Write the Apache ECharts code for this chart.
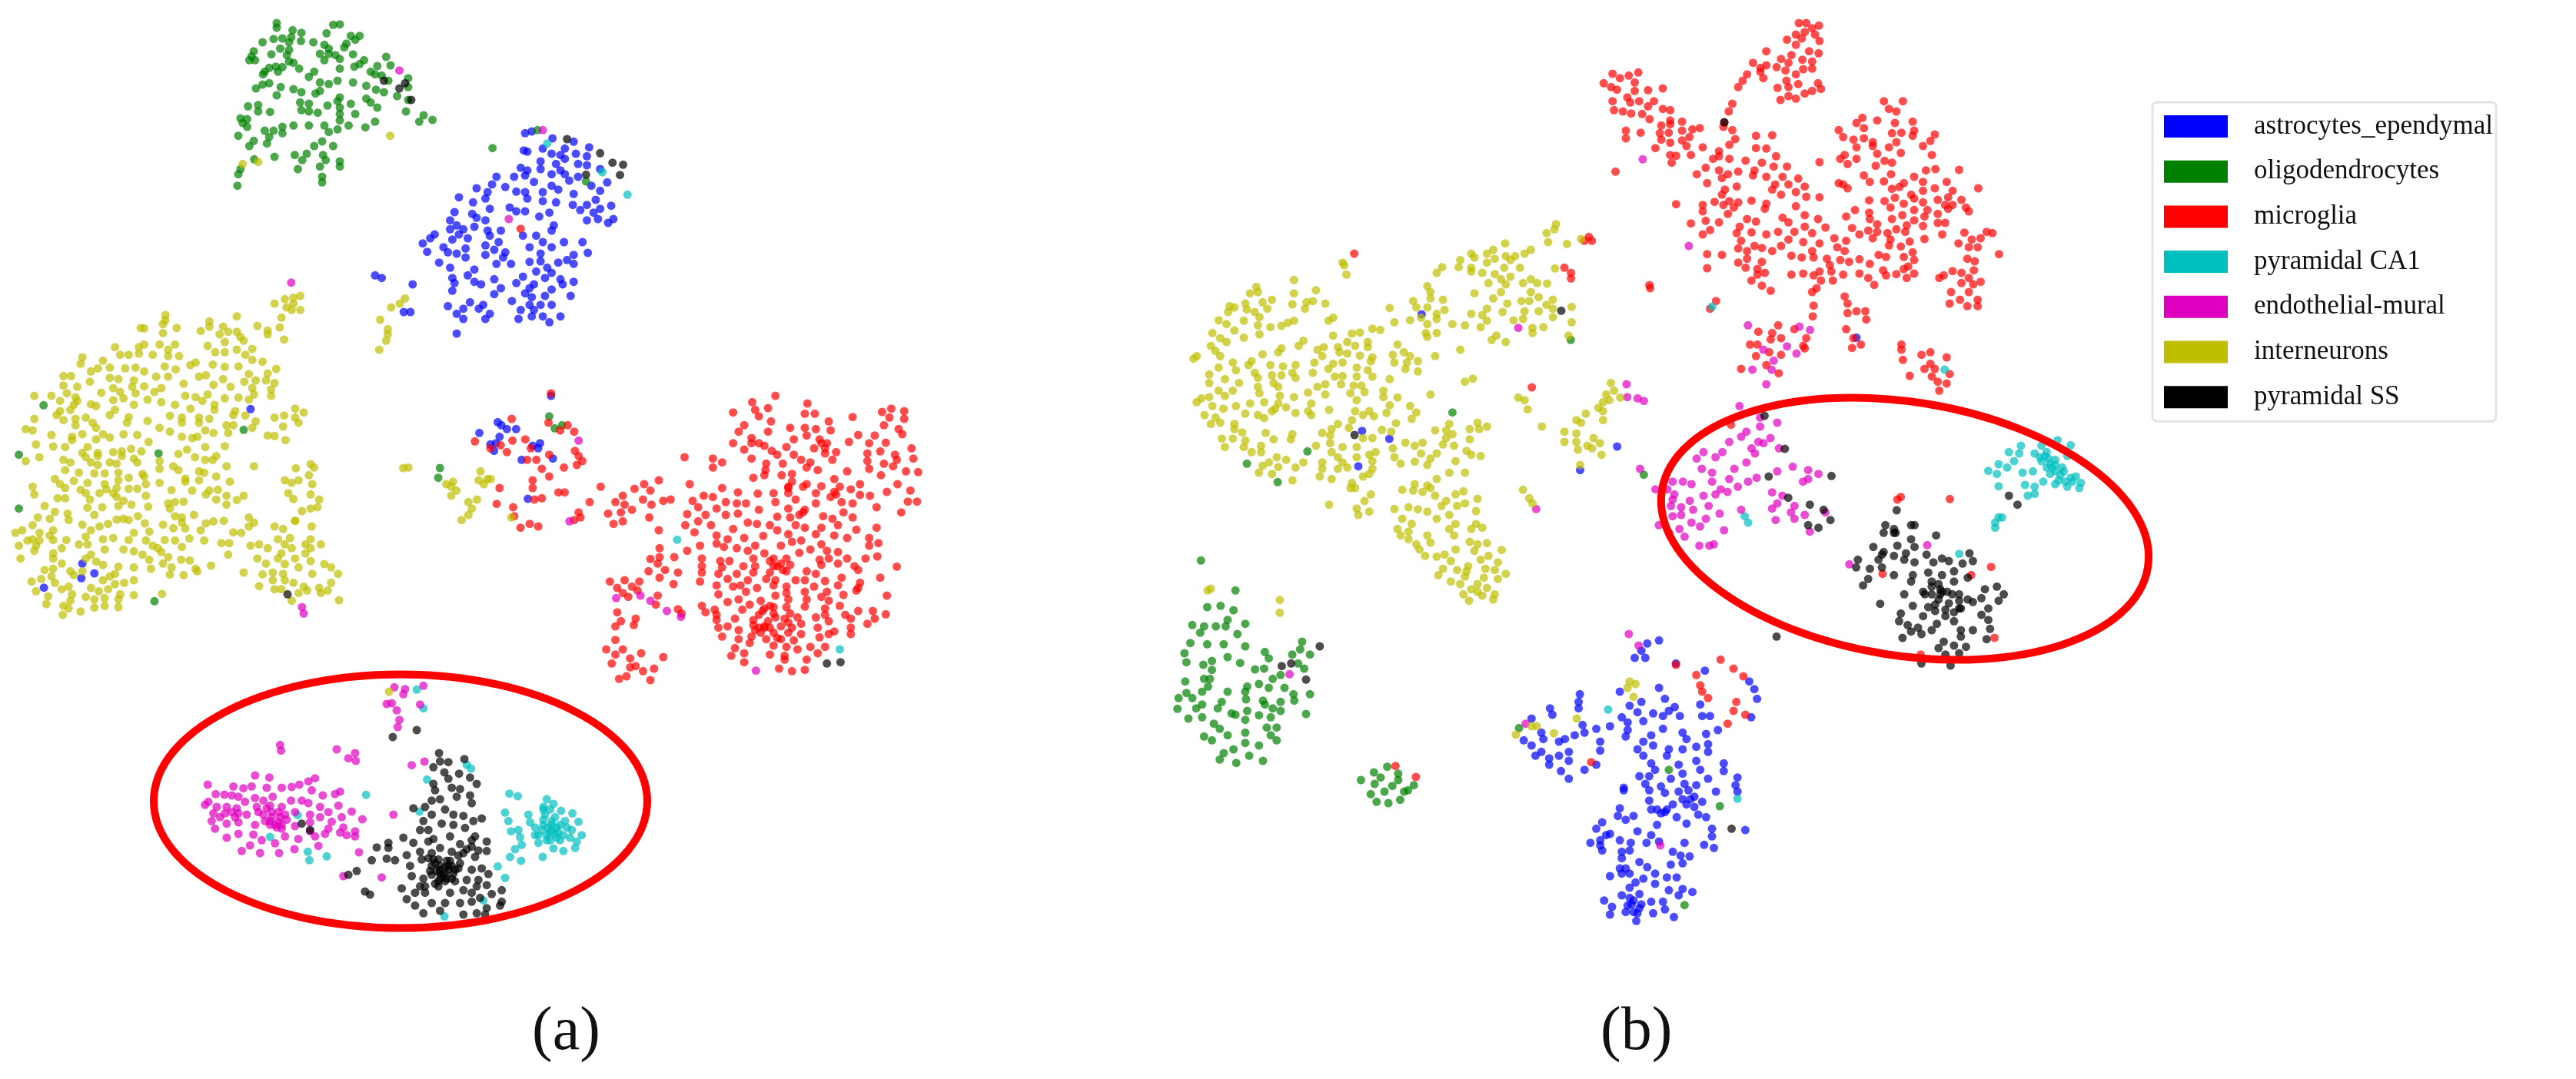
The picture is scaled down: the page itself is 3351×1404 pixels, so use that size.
<!DOCTYPE html>
<html><head><meta charset="utf-8">
<style>html,body{margin:0;padding:0;background:#fff}#c{width:3351px;height:1404px}</style>
<script src="https://cdn.jsdelivr.net/npm/echarts@6/dist/echarts.min.js"></script>
</head><body><div id="c"></div>
<script>
// Each reading frame: [origin x, origin y, x units per image px, y units per image px]
const f1=[0,0,1.742,3], f2=[0,380,2.24,3], f3=[480,470,2.09,3], f4=[180,860,2.306,3],
      f5=[2040,0,2.6,3], f6=[1520,280,2.45,3], f7=[2120,480,2.24,3], f8=[1500,700,1.96,3];

const categories=['astrocytes_ependymal','oligodendrocytes','microglia','pyramidal CA1','endothelial-mural','interneurons','pyramidal SS'];
const colors=['#0000ff','#008000','#ff0000','#00bfbf','#df00bf','#bfbf00','#000000'];
const panelLabels=['(a)','(b)'];

// ---- panel (a) ----
const oligoA=[[627,90],[627,108],[755,97],[770,95],[663,118],[683,128],[740,130],[620,152],[640,150],[660,145],[682,160],[595,165],[655,165],[710,165],[735,175],[795,140],[815,140],[805,155],[785,170],[780,185],[745,190],[635,190],[655,195],[575,200],[570,220],[565,235],[578,235],[615,212],[650,215],[725,210],[745,210],[760,215],[800,212],[875,222],[655,240],[665,245],[735,235],[770,230],[825,235],[815,250],[610,265],[625,260],[640,262],[600,280],[630,280],[678,268],[770,268],[803,260],[855,258],[885,255],[840,280],[850,290],[712,280],[700,300],[596,290],[865,295],[880,315],[925,305],[765,315],[745,328],[725,322],[800,322],[830,335],[610,325],[595,330],[580,345],[636,340],[665,348],[683,360],[725,355],[715,365],[852,350],[870,360],[925,340],[925,390],[627,372],[900,375],[770,380],[765,395],[830,385],[795,405],[840,400],[855,420],[680,400],[700,405],[562,415],[585,410],[585,435],[612,437],[742,412],[770,420],[683,430],[700,435],[720,440],[805,445],[920,435],[770,445],[960,450],[950,475],[980,468],[545,462],[560,465],[550,480],[560,495],[770,470],[700,490],[665,490],[640,495],[735,490],[790,490],[828,497],[850,475],[600,510],[620,510],[610,535],[640,520],[745,515],[765,505],[540,530],[605,560],[575,550],[565,570],[730,552],[712,570],[755,570],[695,600],[668,605],[622,612],[732,605],[685,625],[738,625],[770,630],[770,650],[725,650],[675,660],[545,660],[540,680],[730,690],[730,712],[538,725],[576,622],[1218,508],[1116,578],[1328,708]];
const oligoA2=[[127,442],[710,538],[55,635],[462,630],[55,845],[450,1207],[1282,687],[1277,725]];
const oligoA3=[[490,215],[505,262],[525,250]];
const blueA=[[1190,520],[1205,513],[1252,540],[1300,553],[1187,587],[1195,592],[1230,580],[1280,580],[1335,575],[1250,600],[1270,605],[1305,600],[1280,620],[1330,610],[1225,630],[1260,640],[1310,640],[1180,655],[1195,665],[1225,660],[1270,665],[1330,645],[1360,660],[1165,690],[1190,685],[1250,680],[1280,680],[1310,690],[1125,690],[1115,720],[1210,710],[1250,725],[1290,705],[1376,712],[1145,730],[1080,735],[1170,748],[1190,750],[1230,750],[1265,740],[1300,757],[1360,745],[1340,725],[1105,750],[1040,770],[1195,775],[1230,785],[1260,790],[1100,775],[1072,790],[1350,780],[1298,800],[1330,800],[1385,803],[1110,815],[1155,810],[1170,825],[1190,825],[1030,828],[1070,835],[1315,820],[1360,815],[1245,830],[1222,845],[1345,830],[1330,860],[1390,855],[1080,850],[1100,860],[1020,860],[1355,855],[1378,870],[1035,880],[1075,885],[1050,895],[1255,880],[1250,900],[1135,900],[1105,900],[1020,895],[985,915],[975,930],[1040,915],[1110,920],[1185,920],[1215,920],[1060,930],[1025,935],[1230,945],[958,950],[1130,945],[1320,945],[1278,945],[1200,965],[1250,965],[1005,965],[1100,958],[1055,970],[1015,985],[968,983],[1120,975],[1145,985],[1035,990],[1332,987],[1055,1005],[1100,995],[1140,1005],[1225,990],[1300,995],[1285,1015],[995,1025],[1225,1020],[1200,1022],[1265,1025],[1300,1030],[1125,1030],[1158,1030],[1020,1045],[1240,1045],[1075,1052],[1215,1060],[1060,1075],[1250,1065],[1025,1085],[1120,1090],[1075,1100],[1185,1080],[1235,1085],[1270,1090],[1300,1100],[1030,1105],[1090,1110],[1170,1105],[1210,1110],[1135,1125],[1200,1125],[1275,1110],[1025,1135],[1120,1148],[1190,1145],[1250,1130],[1293,1155],[1205,1160],[1235,1155],[1160,1175],[1065,1180],[1095,1190],[1015,1195],[1200,1190],[1225,1190],[1250,1190],[1050,1205],[1035,1225],[1085,1205],[1110,1225],[1180,1210],[1210,1210],[1100,1245],[1050,1245],[1175,1245],[1205,1235],[1230,1235],[1270,1235],[1245,1258],[1035,1302],[850,1075],[865,1085],[935,1110],[915,1218],[930,1218]];
const blueA2=[[730,457],[240,1060],[275,1098],[237,1117],[128,1154]];
const blueA3=[[495,135],[350,238],[360,250],[375,265],[400,265],[300,280],[355,295],[330,325],[345,320],[340,350],[465,320],[445,330],[460,340],[415,385],[500,380],[432,537]];
const interA=[[875,15],[855,22],[830,28],[800,45],[855,45],[835,60],[850,70],[875,70],[820,100],[690,95],[815,138],[828,185],[750,132],[780,150],[780,165],[482,90],[482,110],[475,125],[410,140],[420,142],[515,140],[610,115],[610,135],[585,152],[650,135],[640,165],[665,155],[690,155],[700,175],[710,190],[475,160],[465,205],[445,245],[420,205],[405,215],[335,215],[510,205],[490,225],[605,210],[655,195],[690,225],[735,222],[627,235],[655,235],[715,245],[350,245],[375,245],[405,240],[490,250],[522,250],[240,255],[235,280],[300,268],[765,272],[735,265],[570,275],[620,283],[655,292],[555,285],[480,290],[695,290],[320,295],[285,298],[265,310],[365,298],[395,295],[420,310],[512,302],[805,300],[490,330],[580,330],[600,325],[725,320],[780,318],[185,328],[207,328],[320,335],[345,340],[455,330],[390,345],[650,340],[775,345],[262,350],[185,365],[712,350],[745,345],[800,355],[535,358],[622,362],[672,370],[420,368],[470,375],[225,370],[330,375],[385,370],[735,375],[790,380],[195,395],[295,393],[350,390],[395,395],[450,390],[740,400],[790,405],[605,400],[100,405],[150,405],[540,405],[570,410],[220,410],[225,425],[360,415],[430,420],[470,430],[655,415],[695,412],[725,420],[330,422],[175,425],[590,425],[215,440],[265,438],[390,440],[510,440],[625,440],[555,455],[625,460],[205,460],[280,445],[335,460],[175,465],[685,465],[165,480],[100,495],[320,480],[495,483],[530,490],[580,490],[610,495],[680,480],[715,482],[375,488],[250,490],[220,495],[185,500],[430,503],[370,510],[530,510],[580,510],[800,490],[828,482],[860,455],[885,470],[860,490],[870,510],[745,505],[220,520],[270,510],[280,530],[75,535],[95,540],[465,530],[495,545],[660,520],[680,520],[735,530],[825,525],[665,550],[598,540],[622,550],[240,555],[210,565],[150,558],[300,555],[360,555],[400,558],[530,565],[560,570],[575,565],[280,575],[320,568],[780,560],[800,562],[433,585],[832,578],[210,578],[105,595],[155,603],[598,605],[190,605],[255,605],[655,602],[382,612],[545,615],[240,628],[355,622],[285,628],[330,625],[412,622],[520,632],[115,645],[285,640],[568,645],[630,640],[185,655],[250,645],[355,640],[390,650],[598,655],[75,660],[205,665],[265,665],[400,665],[465,660],[740,680],[660,680],[620,655],[285,675],[320,665],[340,670],[505,680],[190,695],[230,705],[465,690],[580,700],[595,705],[520,695],[275,708],[305,708],[345,705],[415,710],[375,725],[630,720],[540,728],[160,730],[215,737],[465,745],[580,735],[670,740],[255,745],[345,735],[420,720],[425,750],[175,750],[305,750],[95,760],[540,740],[190,765],[235,772],[310,770],[340,765],[375,768],[400,768],[610,775],[500,773],[560,775],[250,785],[330,785],[100,790],[290,785],[425,795],[600,790],[635,772],[660,795],[710,795],[168,805],[190,805],[262,810],[340,800],[360,815],[690,812],[630,810],[490,825],[510,820],[535,818],[130,835],[255,842],[298,840],[345,835],[383,830],[432,838],[660,830],[160,858],[495,845],[197,865],[275,870],[340,888],[375,890],[402,875],[510,875],[565,870],[530,880],[110,880],[145,885],[200,890],[725,880],[360,885],[422,903],[475,908],[530,900],[600,903],[622,895],[652,893],[740,900],[95,910],[240,908],[290,915],[315,905],[800,915],[725,915],[860,893],[908,915],[65,930],[45,940],[155,930],[265,930],[505,922],[540,922],[435,935],[585,930],[680,938],[703,940],[115,940],[390,940],[145,950],[250,955],[300,965],[330,960],[95,965],[155,968],[193,968],[375,968],[425,970],[480,968],[510,970],[552,962],[595,970],[80,970],[115,970],[645,980],[668,980],[55,990],[230,985],[255,985],[105,990],[445,990],[530,995],[460,1000],[180,1000],[360,1005],[390,1012],[100,1010],[155,1020],[305,1005],[470,1015],[730,990],[755,985],[415,1025],[665,1025],[265,1025],[60,1040],[155,1040],[250,1040],[435,1045],[490,1035],[528,1045],[553,1048],[280,1052],[300,1065],[180,1060],[475,1060],[345,1072],[390,1075],[615,1068],[440,1080],[500,1075],[570,1080],[130,1085],[155,1080],[205,1090],[240,1090],[335,1100],[710,1095],[495,1103],[535,1105],[150,1110],[575,1090],[215,1105],[320,1110],[390,1125],[92,1130],[120,1120],[160,1135],[300,1125],[362,1135],[200,1150],[335,1140],[105,1168],[265,1155],[180,1160],[140,1188],[210,1180],[250,1190],[350,1180],[315,1160],[288,1168],[472,1178],[390,1183],[205,1205],[275,1200],[305,1195],[345,1200],[135,1218],[185,1225],[235,1247],[275,1232],[345,1230],[305,1225],[200,1235],[183,1260],[905,672],[862,688],[915,685],[900,715],[830,735],[870,735],[850,745],[910,750],[840,785],[905,790],[855,808],[930,810],[880,855],[905,845],[925,840],[860,893],[825,925],[810,965],[845,960],[905,965],[890,985],[935,985],[830,985],[780,1000],[850,1000],[905,1000],[820,1020],[890,1020],[750,1040],[810,1040],[860,1040],[905,1050],[775,1060],[830,1062],[945,1062],[870,1075],[965,1075],[795,1095],[825,1100],[910,1100],[985,1100],[765,1102],[830,1125],[795,1125],[965,1135],[755,1148],[885,1150],[930,1155],[855,1135],[800,1160],[895,1165],[820,1160],[935,1175],[955,1165],[870,1175],[850,1205],[988,1203],[1190,685],[1175,687],[1300,750],[1320,740],[1315,760],[1330,775],[1315,795],[1400,700],[1395,735],[1420,730],[1410,750],[1430,730],[1365,820],[1390,810],[1375,845],[1365,870],[1345,890],[1490,880],[1180,25],[1165,45],[1140,60],[1108,108],[1130,145],[1130,165],[1125,190],[1105,225]];
const interA1=[[884,530],[550,640],[585,632]];
const interA4=[[752,120]];
const microA=[[495,125],[388,225],[488,240],[520,270],[540,250],[558,275],[288,313],[390,310],[425,305],[330,340],[358,328],[440,340],[375,355],[560,350],[570,370],[580,390],[430,385],[455,385],[490,365],[470,420],[490,450],[445,465],[530,415],[565,405],[445,495],[355,495],[470,535],[450,540],[515,512],[532,512],[630,490],[347,557],[392,570],[395,605],[412,650],[437,635],[460,645],[600,550],[570,590],[575,610],[558,620],[788,465],[765,505],[748,480],[722,498],[690,525],[670,550],[695,560],[650,595],[745,540],[768,560],[800,545],[820,540],[715,580],[685,590],[762,610],[665,635],[690,625],[788,660],[858,375],[935,380],[960,395],[935,415],[872,480],[1105,135],[1042,160],[1050,190],[1192,165],[1185,205],[1085,183],[1212,205],[990,200],[1060,215],[1315,218],[1420,185],[1395,198],[1455,195],[1415,220],[1455,225],[1093,235],[1250,235],[1020,250],[1145,260],[1185,260],[1215,265],[1440,265],[1400,250],[1005,275],[1085,275],[1255,270],[1190,290],[1040,300],[1155,305],[1225,305],[1330,288],[1450,285],[1375,290],[990,320],[1060,320],[1075,330],[1245,320],[1305,315],[1360,320],[1405,318],[1135,335],[1020,345],[1095,350],[1210,340],[1270,355],[1390,352],[1475,340],[1355,360],[1430,365],[1110,365],[1155,365],[1240,360],[1040,380],[1175,385],[1480,380],[1200,395],[1080,400],[1125,400],[1260,385],[1355,390],[1400,400],[1435,385],[1425,410],[1078,425],[1150,440],[1190,415],[1220,425],[1300,430],[1360,420],[1392,445],[1460,430],[1493,433],[1045,455],[1075,445],[1122,445],[1265,460],[1150,470],[1190,480],[1230,488],[1140,495],[1280,490],[1335,480],[1437,480],[960,495],[1003,512],[1057,517],[1100,515],[1140,515],[1215,515],[1265,510],[1310,500],[1408,510],[1472,505],[910,525],[935,530],[970,550],[1000,555],[1025,555],[1105,550],[1160,540],[1255,530],[1335,522],[1362,525],[880,545],[945,575],[1060,580],[1140,575],[1185,580],[1215,555],[1285,550],[1315,555],[1380,570],[1465,548],[1490,548],[895,570],[1447,590],[865,597],[915,600],[970,600],[1003,595],[1110,607],[1145,610],[1235,605],[1260,615],[1290,590],[1315,610],[895,625],[860,640],[930,640],[1030,630],[1055,635],[1160,640],[1090,640],[1185,650],[1230,650],[1380,650],[990,655],[1110,660],[1275,640],[885,668],[945,680],[1020,690],[1072,682],[1140,675],[1215,675],[1325,658],[1360,690],[1265,680],[975,695],[1175,700],[1300,690],[1385,710],[945,712],[1050,720],[1120,720],[1230,715],[1150,705],[790,730],[865,740],[900,720],[965,725],[1000,730],[1075,750],[1170,748],[1200,735],[1245,740],[1275,745],[1360,720],[1030,740],[765,772],[790,765],[830,765],[905,770],[955,780],[980,780],[1045,770],[1100,770],[1135,770],[1225,775],[1300,770],[1350,770],[1382,762],[1250,770],[1110,800],[1018,800],[785,790],[905,800],[960,805],[1050,800],[1145,795],[1275,790],[1320,800],[1230,795],[1435,802],[805,815],[760,820],[840,825],[905,825],[1000,830],[1090,825],[1125,815],[1190,820],[1215,830],[1045,825],[950,830],[1330,815],[790,845],[975,850],[1030,855],[1105,855],[1160,855],[1285,845],[1390,845],[655,860],[695,855],[735,860],[900,860],[1080,850],[1185,855],[1240,858],[945,875],[1010,875],[1335,865],[1275,875],[828,870],[675,885],[715,880],[1055,885],[1210,880],[1100,875],[990,880],[1135,880],[1330,885],[690,905],[730,895],[1025,900],[950,910],[1185,900],[1135,905],[1245,900],[1105,915],[1325,895],[705,920],[1230,920],[1290,912],[1408,915],[785,915],[1005,930],[1065,935],[975,940],[1140,930],[1190,930],[1250,935],[1035,950],[780,950],[905,955],[1075,965],[1100,960],[1135,960],[1185,958],[1280,955],[1240,965],[940,970],[1015,970],[840,968],[915,980],[1060,990],[1100,985],[1330,975],[1370,975],[1405,988],[1145,985],[1215,1000],[1240,990],[1165,1000],[850,985],[675,980],[1295,990],[995,1005],[1130,1005],[1045,1010],[1310,1005],[1375,1005],[945,990],[725,1005],[945,1010],[1085,1015],[1250,1015],[1175,1025],[685,1015],[720,1030],[670,1035],[1355,1025],[975,1035],[1045,1030],[1075,1035],[1120,1035],[1220,1040],[1150,1040],[950,1040],[1310,1040],[1265,1055],[1005,1050],[1065,1060],[1100,1060],[1175,1065],[1140,1060],[1040,1075],[1250,1065],[1310,1065],[960,1075],[670,1088],[1005,1085],[1080,1085],[1225,1078],[1120,1085],[1155,1090],[1035,1100],[1100,1110],[1200,1115],[1240,1115],[645,1125],[690,1125],[995,1120],[1135,1115],[1165,1125],[670,1145],[740,1140],[1020,1140],[1220,1140],[985,1150],[1090,1145],[1130,1165],[1190,1165],[800,1155],[710,1160],[660,1180],[1020,1175],[1115,1200],[1150,1210],[1185,1205],[725,1190],[775,1200],[745,1210],[710,1195],[680,1240],[765,1245],[700,1230]];
const microA1=[[1180,893]];
const microA3b=[[1100,800],[1120,790],[1135,820],[1090,780],[1075,1040],[1050,1050],[1090,1040],[1060,1040],[1140,1020],[1105,1000],[1070,975],[1090,955],[1180,590],[1170,600],[1230,320],[1240,340],[1040,320],[1140,490],[1270,520],[1180,490],[1130,1150],[1110,1080]];
const endoA=[[768,103],[800,110],[795,130],[855,97],[745,168],[760,165],[845,170],[775,193],[783,230],[778,258],[425,328],[428,350],[595,345],[650,360],[630,380],[652,390],[820,407],[858,393],[350,447],[393,455],[530,458],[510,470],[208,483],[285,490],[315,497],[340,490],[385,495],[430,495],[460,492],[483,483],[520,505],[605,510],[590,520],[232,520],[258,522],[350,535],[403,530],[553,525],[320,550],[458,545],[490,545],[210,550],[280,525],[300,530],[375,545],[510,555],[600,565],[235,570],[265,570],[295,575],[355,570],[395,565],[430,570],[545,570],[200,562],[470,590],[420,590],[640,588],[225,595],[260,595],[325,600],[375,600],[515,600],[570,590],[765,600],[290,610],[400,610],[610,610],[545,610],[672,618],[220,625],[265,635],[300,630],[350,640],[420,630],[445,620],[515,630],[580,628],[230,655],[430,655],[470,645],[395,640],[615,650],[650,665],[300,675],[345,678],[440,685],[515,665],[570,655],[605,670],[625,680],[650,685],[265,690],[370,700],[480,695],[530,685],[410,712],[560,675],[335,720],[540,722],[310,742],[365,750],[422,750],[468,735],[662,747],[615,840],[730,845],[400,590],[410,640],[380,625],[425,610],[440,600],[395,625],[430,640],[280,590],[245,610],[300,595],[360,590],[385,575],[415,650]];
const endoA1=[[905,275],[1230,508],[1153,855],[660,1103]];
const endoA2=[[880,1230],[885,1255]];
const endoA3=[[570,310],[545,625],[672,925],[738,915],[765,935],[810,975],[848,998],[1052,1208]];
const ssA=[[902,360],[978,383],[885,415],[930,395],[905,392],[918,435],[962,440],[995,455],[885,480],[930,460],[1015,480],[965,500],[890,505],[940,495],[995,525],[955,530],[880,545],[905,540],[1000,555],[860,570],[825,575],[975,605],[920,580],[945,600],[1030,615],[855,625],[880,600],[910,635],[945,640],[1005,625],[980,652],[845,660],[870,660],[935,685],[1010,685],[795,690],[825,710],[885,695],[750,710],[1045,705],[715,728],[750,730],[870,705],[965,715],[1000,725],[905,730],[1045,742],[805,758],[845,745],[880,750],[940,745],[975,750],[745,772],[770,778],[700,778],[850,775],[900,775],[1010,765],[935,780],[965,790],[815,800],[880,800],[920,805],[1030,810],[1000,815],[655,820],[630,835],[820,840],[880,835],[905,830],[945,830],[1050,832],[985,855],[1020,855],[855,850],[920,860],[950,860],[845,880],[790,888],[860,880],[900,880],[1045,875],[1015,880],[680,900],[695,912],[1090,895],[830,905],[860,905],[975,895],[935,905],[1000,905],[1060,910],[1025,925],[805,930],[920,945],[965,945],[1000,940],[1090,940],[880,945],[830,955],[855,985],[905,975],[1045,965],[975,990],[1015,985],[1085,955],[1040,990],[763,297],[835,270],[490,635],[515,660],[905,800],[930,815],[895,820],[915,840],[940,800],[925,780],[905,850],[920,830],[890,790],[960,810],[870,770],[885,775],[930,800],[905,815],[950,815],[875,820],[925,850],[900,860],[940,850],[890,870],[1000,700],[985,735],[1020,740],[960,760]];
const ssA1=[[870,315],[918,325],[905,345],[932,390],[1285,543],[1360,598],[1388,635],[1412,643],[1405,683],[1328,682]];
const ssA2=[[838,1180]];
const ssA3=[[1245,1180],[1282,1175]];
const ca1A=[[835,112],[855,185],[985,405],[998,420],[866,463],[843,588],[683,523],[478,602],[395,687],[508,745],[513,778],[565,763],[1078,802],[1100,847],[918,997],[1035,935],[1113,518],[1138,528],[1225,540],[1245,558],[1215,570],[1100,592],[1170,600],[1268,585],[1302,595],[1110,625],[1175,630],[1215,620],[1250,610],[1280,625],[1320,628],[1190,650],[1228,650],[1118,665],[1140,660],[1255,650],[1300,660],[1145,688],[1190,680],[1225,680],[1250,675],[1275,680],[1330,680],[1200,710],[1235,700],[1265,700],[1315,705],[1150,718],[1130,735],[1245,732],[1310,730],[1275,742],[1115,765],[1148,780],[1213,765],[1220,600],[1240,640],[1210,660],[1235,670],[1255,690],[1225,700],[1240,660],[1260,670],[1215,640],[1285,650],[1265,640],[1240,625],[1200,680],[1295,690],[1215,580],[1235,580]];
const ca1A1=[[1240,560],[1365,672],[1422,760]];
const ca1A3=[[838,697],[1280,1125]];

// ---- panel (b) ----
const microB=[[780,90],[805,90],[848,100],[825,110],[800,125],[770,135],[835,135],[790,150],[850,160],[740,155],[770,175],[670,200],[815,200],[847,208],[755,215],[625,245],[720,230],[745,245],[792,233],[825,240],[650,265],[670,255],[705,262],[735,275],[825,268],[795,270],[605,290],[650,280],[770,290],[660,305],[590,315],[738,315],[575,340],[778,328],[845,325],[708,343],[745,340],[855,347],[825,355],[800,365],[770,385],[745,375],[718,390],[150,288],[237,283],[205,295],[175,305],[120,325],[225,322],[145,340],[270,352],[320,345],[165,350],[225,355],[200,380],[150,395],[240,395],[290,395],[210,400],[270,415],[320,425],[155,430],[185,435],[213,443],[250,445],[345,430],[275,465],[345,470],[385,475],[315,490],[345,485],[555,405],[543,435],[528,478],[445,500],[420,505],[385,510],[195,510],[245,518],[310,520],[340,518],[555,508],[525,495],[635,530],[690,528],[410,535],[195,540],[315,545],[565,543],[345,557],[385,548],[400,570],[545,565],[295,578],[455,575],[670,580],[635,578],[345,605],[365,608],[415,605],[510,590],[703,610],[350,635],[600,627],[490,620],[545,620],[510,610],[655,635],[740,650],[465,655],[510,665],[695,650],[850,633],[575,670],[435,680],[540,680],[630,665],[625,685],[670,690],[520,695],[778,697],[470,715],[570,728],[725,690],[700,720],[745,720],[800,728],[530,740],[690,740],[720,760],[770,750],[520,760],[805,768],[850,770],[545,785],[620,783],[495,788],[575,790],[670,795],[455,800],[525,800],[770,805],[560,810],[665,815],[455,825],[540,835],[800,840],[605,855],[510,868],[465,862],[415,872],[725,850],[635,865],[845,855],[745,868],[580,885],[480,898],[455,915],[620,907],[800,885],[870,888],[710,905],[670,915],[570,910],[765,905],[825,910],[585,940],[745,935],[900,930],[795,945],[940,940],[720,960],[850,950],[630,960],[575,970],[605,980],[655,968],[690,980],[910,965],[825,980],[470,992],[520,995],[755,998],[790,1005],[830,1005],[875,1010],[935,980],[605,1010],[655,1022],[575,1025],[985,1012],[920,1015],[470,1047],[600,1045],[885,1035],[950,1022],[640,1050],[665,1065],[850,1060],[755,1072],[795,1068],[830,1075],[890,1060],[930,1072],[640,1072],[620,1095],[855,1095],[895,1095],[277,1125],[655,1115],[685,1135],[840,1125],[825,1140],[500,1175],[480,1205],[935,1157],[945,1185],[830,1193],[827,1235],[945,1222],[975,1215],[1005,1215],[1008,1247],[940,1285],[965,1320],[990,1345],[960,1358],[643,1295],[710,1270],[690,1300],[720,1320],[685,1325],[615,1345],[640,1345],[805,1320],[795,1350],[635,1390],[680,1375],[720,1385],[670,1425],[712,1457],[585,1440],[765,1285],[800,1360],[1132,395],[1068,395],[1085,425],[1110,435],[995,460],[1045,470],[975,480],[1105,480],[1165,475],[1000,500],[1095,520],[1170,510],[915,508],[1127,518],[930,535],[965,545],[1000,540],[1030,555],[1240,525],[1165,530],[1110,555],[1225,550],[975,575],[1085,575],[1030,570],[1200,570],[1045,600],[1125,597],[1230,605],[935,605],[920,620],[975,620],[1070,628],[945,640],[1095,635],[1040,647],[1242,660],[1322,663],[1210,665],[1092,680],[1000,685],[1170,690],[1020,710],[1068,708],[1135,715],[1200,710],[1280,710],[1120,730],[1095,737],[1240,735],[1387,735],[1160,760],[1200,745],[1300,745],[1018,782],[1105,772],[1070,785],[1170,775],[1250,780],[1285,770],[1330,780],[1135,795],[1200,790],[1275,800],[1300,800],[1345,810],[1090,810],[1170,820],[1215,820],[970,820],[1018,830],[1355,825],[940,845],[1020,855],[1130,840],[1250,835],[1205,845],[1095,855],[1170,860],[1285,815],[1045,875],[1250,870],[1275,870],[1145,880],[960,890],[1200,882],[1110,895],[1015,900],[1045,905],[1080,910],[1140,905],[1265,915],[1205,933],[985,915],[1030,930],[1090,935],[1340,908],[1415,905],[1435,910],[1395,930],[1365,935],[1155,943],[1085,958],[1125,962],[1320,950],[1385,965],[1355,965],[1457,992],[1165,985],[1050,995],[1075,1003],[1135,1003],[1350,1010],[1375,1020],[1170,1015],[1020,1030],[1150,1040],[1065,1055],[1135,1050],[1372,1055],[1110,1070],[985,1068],[1075,1075],[1170,1068],[1300,1058],[1270,1075],[1330,1065],[1255,1085],[1015,1085],[1145,1085],[1035,1112],[1355,1085],[1395,1100],[1330,1105],[1370,1110],[1295,1140],[1355,1140],[1290,1185],[1325,1170],[1385,1170],[1350,1195],[1385,1195],[1127,1345],[1127,1365],[1132,1405],[1195,1385],[1225,1375],[1280,1395],[1225,1420],[1205,1440],[1240,1440],[1290,1460],[1155,1467],[1230,1470],[1250,1490],[1280,1497],[1255,1525],[930,720],[945,735],[915,715],[160,670],[365,797],[70,925],[55,940],[80,940]];
const microB6=[[592,150],[1262,205],[1283,225],[1283,247],[1533,273],[1158,672]];
const microB7=[[780,510],[790,500],[933,508],[737,800],[995,805],[1053,773],[1063,1050],[848,1115],[295,218]];
const microB8=[[1447,475],[1333,495],[1385,535],[1480,510],[1505,540],[1395,575],[1400,600],[1415,625],[1487,640],[1480,675],[1510,690],[1465,725],[1117,875],[618,890],[670,933]];
const interB=[[1235,35],[1230,55],[1205,70],[1210,105],[1270,112],[1073,110],[1315,93],[1035,135],[1155,135],[965,150],[1015,150],[1135,150],[1105,160],[975,165],[930,175],[1040,170],[1075,160],[1015,185],[555,185],[560,195],[1090,175],[872,203],[925,203],[965,205],[1070,205],[1120,205],[1232,208],[855,225],[965,220],[1000,225],[1040,230],[567,232],[1090,240],[400,253],[1060,250],[1020,265],[1130,265],[1155,250],[1175,265],[1207,267],[1075,270],[280,280],[825,277],[470,293],[835,300],[975,305],[1060,300],[1155,300],[400,305],[260,305],[285,300],[1035,325],[1125,335],[1180,320],[1225,330],[875,330],[330,330],[835,325],[300,340],[440,340],[460,335],[500,345],[780,335],[1080,345],[1150,335],[395,348],[245,345],[195,355],[210,360],[705,362],[790,360],[825,360],[435,365],[1015,365],[1205,350],[1285,358],[250,368],[315,365],[190,378],[880,370],[1135,375],[1065,378],[1180,375],[1225,365],[275,378],[855,385],[965,385],[805,400],[290,398],[1000,390],[1225,398],[525,400],[1130,405],[160,410],[400,412],[770,410],[855,405],[510,412],[185,425],[240,412],[720,418],[1015,412],[380,420],[905,425],[945,430],[1285,418],[360,432],[825,425],[325,437],[210,450],[285,430],[1100,410],[995,437],[1160,440],[1195,437],[650,443],[675,448],[140,460],[290,465],[820,460],[855,460],[1160,460],[585,462],[610,458],[525,470],[825,475],[165,480],[240,478],[185,495],[430,490],[1045,470],[1030,487],[1075,495],[1275,470],[570,495],[635,495],[135,510],[415,510],[495,515],[540,515],[595,510],[730,505],[360,520],[150,530],[635,515],[930,525],[475,525],[90,550],[165,550],[300,543],[545,535],[715,545],[750,535],[570,540],[610,548],[850,550],[350,535],[770,550],[490,550],[650,555],[265,570],[205,575],[80,560],[465,575],[525,580],[405,585],[555,575],[645,570],[720,575],[760,575],[795,570],[325,585],[365,590],[600,595],[160,595],[215,605],[255,585],[510,600],[275,615],[395,615],[795,610],[635,605],[755,600],[130,622],[330,625],[460,615],[650,630],[530,630],[285,635],[180,640],[360,625],[600,630],[555,628],[405,635],[705,640],[970,638],[945,650],[130,655],[225,655],[500,660],[335,655],[550,660],[615,665],[285,670],[350,670],[160,685],[205,685],[475,670],[590,665],[835,700],[1410,655],[685,685],[400,710],[445,692],[500,700],[625,690],[580,695],[180,705],[290,695],[1420,685],[1395,700],[105,715],[355,705],[685,710],[730,712],[600,722],[130,710],[90,730],[260,735],[305,730],[1115,712],[1135,722],[1440,712],[1405,722],[1385,730],[455,735],[350,735],[140,745],[375,750],[215,745],[340,755],[705,742],[770,745],[175,755],[512,760],[1145,758],[1370,752],[445,765],[595,765],[640,765],[790,770],[330,765],[1385,765],[115,780],[245,775],[285,780],[405,772],[695,772],[620,780],[655,785],[150,790],[455,780],[775,795],[1330,775],[305,792],[1300,800],[585,800],[1385,800],[1190,825],[135,815],[165,810],[210,815],[540,815],[1315,810],[725,812],[895,815],[985,810],[960,835],[1015,825],[210,835],[520,835],[680,838],[575,830],[850,840],[885,840],[990,835],[1262,845],[490,850],[235,848],[310,850],[395,855],[710,845],[905,855],[1300,852],[515,860],[620,870],[650,870],[170,872],[205,872],[335,875],[245,880],[390,875],[885,870],[960,875],[755,888],[1355,870],[1262,885],[1300,885],[810,888],[785,900],[240,905],[295,900],[470,900],[515,890],[910,900],[875,895],[555,905],[600,905],[180,905],[1375,890],[1335,900],[1305,915],[265,925],[715,910],[950,920],[855,930],[660,925],[520,925],[1350,910],[295,925],[805,930],[965,935],[640,935],[995,940],[720,945],[1380,935],[540,945],[345,945],[600,945],[835,950],[650,960],[375,955],[320,965],[490,965],[405,985],[430,965],[785,962],[915,960],[555,965],[740,970],[825,975],[300,978],[1312,975],[350,983],[540,990],[490,990],[570,985],[945,1005],[895,1005],[650,990],[288,1005],[330,1010],[640,1010],[620,1020],[482,1020],[395,1035],[520,1030],[855,1030],[1130,1072],[585,1045],[825,1055],[785,1050],[595,1065],[745,1072],[580,1065],[780,1075],[810,1080],[835,1065],[940,1078],[915,1090],[645,1090],[850,1095],[985,1107],[885,1115],[625,1115],[1150,1105],[1160,1125],[945,1125],[512,1130],[870,1135],[920,1135],[600,1145],[720,1147],[795,1148],[765,1140],[980,1155],[640,1157],[825,1157],[895,1170],[605,1170],[745,1185],[855,1185],[775,1205],[980,1205],[915,1205],[1000,1220],[730,1225],[895,1225],[965,1225],[765,1235],[740,1250],[825,1250],[910,1250],[765,1265],[835,1278],[960,1275],[1015,1280],[985,1285],[790,1285],[800,1305],[915,1305],[1062,1307],[975,1310],[880,1325],[818,1330],[855,1333],[1020,1330],[900,1350],[995,1345],[1050,1355],[955,1370],[1010,1380],[875,1380],[860,1405],[950,1390],[920,1385],[1040,1385],[1075,1400],[1005,1415],[945,1410],[900,1430],[1050,1420],[930,1440],[985,1440],[1015,1455],[965,1460],[1040,1480],[940,1480],[1000,1485],[958,1505],[1035,1500],[985,1470],[355,1502],[125,1465],[135,1458]];
const interB8=[[1230,570],[1215,560],[1210,585],[1225,620],[1080,705],[978,735],[965,735],[925,768],[1022,762],[323,292]];
const oligoB=[[122,88],[210,205],[138,270],[172,265],[205,282],[190,320],[100,340],[130,345],[160,345],[235,335],[185,345],[120,370],[215,375],[95,410],[138,415],[180,415],[235,423],[380,405],[375,435],[400,455],[355,455],[80,450],[285,445],[190,465],[85,485],[150,480],[128,495],[222,488],[295,470],[370,490],[260,513],[283,510],[150,515],[385,510],[325,535],[145,550],[130,550],[82,560],[305,550],[270,570],[240,580],[140,580],[335,585],[190,600],[235,600],[295,585],[85,605],[125,600],[400,610],[358,610],[65,625],[100,625],[280,635],[237,630],[175,640],[325,640],[360,635],[125,650],[165,665],[62,667],[285,650],[305,665],[110,665],[200,685],[240,675],[90,705],[125,700],[270,692],[390,687],[325,675],[300,700],[210,690],[235,710],[155,725],[290,740],[315,740],[170,745],[130,775],[235,760],[190,770],[300,770],[150,790],[235,800],[315,790],[270,810],[205,825],[180,840],[245,850],[170,865],[280,870],[212,878],[597,893],[563,915],[625,920],[530,945],[580,935],[625,945],[610,968],[665,965],[565,960],[555,1000],[640,990],[590,990],[570,1030],[600,1035],[630,1022],[650,985],[933,742],[1315,905],[1445,1047],[1355,1433]];
const oligoB6=[[1282,487],[905,770],[443,922],[250,970],[348,1042],[1515,1013]];
const blueB=[[1290,400],[1260,412],[1245,440],[1228,468],[1255,468],[1333,490],[1407,518],[1290,585],[1190,600],[1088,610],[1085,640],[1085,665],[1305,628],[1012,665],[1018,690],[1395,650],[1215,655],[1245,640],[1330,660],[1235,680],[1275,685],[1343,695],[1400,695],[1420,695],[1315,675],[1195,700],[1300,695],[1525,700],[1540,628],[1533,590],[1520,560],[965,705],[1095,730],[1210,720],[1165,735],[1250,715],[1130,745],[1100,760],[1210,750],[1300,745],[1440,750],[1410,765],[990,760],[1075,770],[1350,760],[1050,785],[1035,795],[1270,770],[945,790],[995,785],[1140,795],[1205,775],[1250,795],[1360,785],[1415,805],[965,810],[1275,810],[1140,830],[1315,825],[1235,825],[1350,825],[1385,815],[1415,835],[990,835],[975,850],[1060,835],[1035,850],[1250,850],[1310,850],[1010,860],[1340,885],[1060,870],[1270,880],[1385,870],[1455,880],[1010,885],[1130,885],[1280,905],[1455,910],[1040,910],[1100,905],[1240,930],[1265,930],[1350,920],[1395,905],[1320,940],[1415,940],[1490,935],[1060,940],[1355,960],[1255,960],[1485,965],[1200,975],[1295,970],[1385,965],[1490,990],[1265,985],[1340,990],[1435,990],[1305,995],[1200,985],[1380,1010],[1350,1020],[1265,1025],[1400,1030],[1285,1060],[1325,1040],[1380,1050],[1190,1055],[1305,1070],[1410,1090],[1185,1085],[1225,1085],[1270,1060],[1390,1080],[1335,1090],[1360,1115],[1205,1100],[1145,1110],[1285,1120],[1425,1135],[1130,1135],[1510,1140],[1235,1145],[1165,1155],[1425,1165],[1270,1160],[1115,1190],[1140,1180],[1190,1180],[1258,1190],[1218,1190],[1355,1190],[1405,1198],[1430,1210],[1145,1220],[1290,1185],[1195,1225],[1325,1225],[1215,1220],[1345,1240],[1368,1243],[1195,1250],[1240,1265],[1320,1275],[1260,1285],[1350,1270],[1190,1290],[1165,1320],[1215,1310],[1280,1310],[1310,1325],[1250,1330],[1335,1325],[1280,1350],[1230,1345],[1350,1370],[1375,1382],[1215,1365],[1315,1375],[1195,1395],[1340,1395],[1240,1390],[1150,1415],[1215,1405],[1270,1420],[1300,1420],[1170,1440],[1220,1430],[1245,1430],[1305,1450],[1165,1470],[1205,1460],[1275,1465],[1235,1465],[1328,1480],[1232,1495],[1225,1415],[1240,1445],[1210,1435],[1225,1460],[1365,985],[1370,1020],[1360,1040],[1310,1060],[1295,1075],[1155,1160],[1140,1200],[1195,1310],[1205,1290]];
const blueB6=[[807,387],[617,842],[704,873],[605,980],[1430,903],[1312,995]];
const blueB5=[[975,1318]];
const endoB=[[320,145],[380,190],[430,210],[380,225],[340,245],[410,270],[325,265],[290,285],[375,285],[390,290],[355,310],[435,310],[270,325],[215,325],[365,330],[195,350],[250,345],[340,365],[305,390],[475,382],[520,395],[550,410],[430,400],[210,390],[240,405],[370,425],[345,440],[520,430],[505,440],[240,440],[290,430],[75,470],[125,440],[155,440],[180,450],[110,470],[265,470],[315,460],[130,490],[285,480],[250,490],[415,482],[445,495],[175,515],[125,510],[215,495],[430,525],[480,535],[230,535],[415,545],[325,550],[120,535],[150,540],[185,550],[262,565],[470,560],[510,570],[570,560],[125,575],[150,570],[222,585],[425,590],[480,585],[85,610],[180,600],[205,615],[145,625],[275,630],[525,635],[115,640],[160,655],[203,690],[232,690],[245,685],[867,688],[640,763]];
const endoB5=[[608,1270],[782,1275],[818,1288],[740,1352],[772,1380],[660,1365],[695,1408],[623,1443],[688,1443],[670,1500],[408,960],[252,622]];
const endoB6=[[1115,440],[1460,660],[1462,710],[1495,715],[1515,725],[1503,990],[1172,1147]];
const endoB8=[[1213,375],[1238,420],[950,725],[1293,1200],[348,532]];
const ssB=[[393,183],[452,312],[405,420],[588,418],[462,503],[525,530],[565,550],[585,590],[520,610],[550,620],[778,552],[745,610],[770,625],[820,610],[830,610],[740,640],[775,640],[893,650],[820,665],[780,690],[710,695],[830,695],[740,715],[805,720],[865,725],[725,745],[770,730],[910,740],[665,745],[800,745],[990,720],[930,750],[970,760],[1000,750],[885,755],[735,775],[660,775],[700,780],[830,755],[870,795],[945,790],[770,805],[910,805],[825,805],[695,820],[985,815],[680,845],[820,830],[945,830],[880,850],[800,880],[855,870],[905,860],[1035,860],[1070,850],[960,880],[1090,880],[1025,895],[730,917],[1075,905],[1000,910],[900,900],[825,925],[870,930],[930,915],[1045,935],[890,945],[965,935],[790,955],[855,965],[920,965],[1025,960],[785,985],[945,985],[810,1000],[895,995],[1045,980],[840,1010],[880,1020],[1050,1015],[965,1020],[1000,1020],[820,1025],[850,1035],[795,1050],[965,1045],[1040,1055],[915,1065],[428,1045],[900,1090],[945,1080],[980,1085],[920,1115],[960,1110],[1105,495],[1130,530],[850,1150],[935,1158],[985,900],[905,880],[880,880],[960,935],[880,830],[900,840],[925,870],[940,880],[890,920],[920,940],[945,950],[860,880],[910,870],[960,905],[770,640],[735,725]];
const ssB5=[[528,477]];
const ssB6=[[1252,373],[593,858]];
const ssB8=[[425,423],[352,490],[328,500],[390,553],[1475,1135]];
const ca1B=[[1247,278],[1285,298],[1140,300],[1200,300],[1105,325],[1135,330],[1180,330],[1215,325],[1275,340],[1075,372],[1120,360],[1200,360],[1240,355],[1045,398],[1100,385],[1175,400],[1145,405],[1230,385],[1070,410],[1260,385],[1255,415],[1300,420],[1205,440],[1240,450],[1152,453],[1075,458],[1180,460],[1275,460],[1315,445],[1310,465],[1160,495],[1180,488],[1075,580],[1065,620],[1065,600],[345,600],[335,575],[960,722],[1085,580],[1220,350],[1210,340],[1225,370],[1240,400],[1265,400],[1250,435],[1270,440],[1290,440],[1195,345],[1215,385],[1240,375],[1225,410],[1285,425]];
const ca1B5=[[487,1197],[1273,1443]];
const ca1B8=[[1160,670],[1490,1018]];

// Which arrays feed each cell type, with the frame they were read in
const panelA={
 'astrocytes_ependymal':[[blueA,f1],[blueA2,f2],[blueA3,f3]],
 'oligodendrocytes':[[oligoA,f1],[oligoA2,f2],[oligoA3,f3]],
 'microglia':[[microA,f3],[microA1,f1],[microA3b,f3]],
 'pyramidal CA1':[[ca1A,f4],[ca1A1,f1],[ca1A3,f3]],
 'endothelial-mural':[[endoA,f4],[endoA1,f1],[endoA2,f2],[endoA3,f3]],
 'interneurons':[[interA,f2],[interA1,f1],[interA4,f4]],
 'pyramidal SS':[[ssA,f4],[ssA1,f1],[ssA2,f2],[ssA3,f3]]
};
const panelB={
 'astrocytes_ependymal':[[blueB,f8],[blueB6,f6],[blueB5,f5]],
 'oligodendrocytes':[[oligoB,f8],[oligoB6,f6]],
 'microglia':[[microB,f5],[microB6,f6],[microB7,f7],[microB8,f8]],
 'pyramidal CA1':[[ca1B,f7],[ca1B5,f5],[ca1B8,f8]],
 'endothelial-mural':[[endoB,f7],[endoB5,f5],[endoB6,f6],[endoB8,f8]],
 'interneurons':[[interB,f6],[interB8,f8]],
 'pyramidal SS':[[ssB,f7],[ssB5,f5],[ssB6,f6],[ssB8,f8]]
};
const toImg=(pts,fr)=>pts.map(p=>[fr[0]+p[0]/fr[2],fr[1]+p[1]/fr[3]]);
const gather=list=>list.flatMap(([pts,fr])=>toImg(pts,fr));

const DOT=11, ALPHA=0.7;
const series=[];
[panelA,panelB].forEach((panel,pi)=>{
  categories.forEach((name,ci)=>{
    series.push({type:'scatter',name,xAxisIndex:pi,yAxisIndex:pi,data:gather(panel[name]),
      symbol:'circle',symbolSize:DOT,silent:true,animation:false,
      itemStyle:{color:colors[ci],opacity:ALPHA},z:2});
  });
});
// red highlight ellipses: centre x, centre y, semi-axes, tilt in degrees
const ellipseA=[[521,1042.5,321,165,0]];
const ellipseB=[[2478,688,320,165,9]];
[ellipseA,ellipseB].forEach((d,pi)=>{
  series.push({type:'custom',xAxisIndex:pi,yAxisIndex:pi,data:d,silent:true,animation:false,z:5,
    encode:{x:0,y:1},
    renderItem(p,api){
      const c=api.coord([api.value(0),api.value(1)]);
      const s=api.size([api.value(2),api.value(3)]);
      return {type:'ellipse',x:c[0],y:c[1],rotation:-api.value(4)*Math.PI/180,
        shape:{cx:0,cy:0,rx:s[0],ry:s[1]},
        style:{fill:null,stroke:'#ff0000',lineWidth:10}};
    }});
});
const hiddenX=(min,max)=>({type:'value',min,max,show:false,gridIndex:0});
const option={
  backgroundColor:'#fff',animation:false,
  grid:[{left:0,top:0,width:1500,height:1404},{left:1500,top:0,width:1851,height:1404}],
  xAxis:[{...hiddenX(0,1500),gridIndex:0},{...hiddenX(1500,3351),gridIndex:1}],
  yAxis:[{type:'value',min:0,max:1404,inverse:true,show:false,gridIndex:0},
         {type:'value',min:0,max:1404,inverse:true,show:false,gridIndex:1}],
  legend:{data:categories.map(name=>({name,icon:'rect',itemStyle:{opacity:1}})),orient:'vertical',left:2800,top:133,
    itemWidth:83,itemHeight:29,itemGap:23.7,padding:[14,4,14,15],
    borderColor:'#e4e4e4',borderWidth:3,borderRadius:6,backgroundColor:'#fff',selectedMode:false,
    textStyle:{fontFamily:'"Liberation Serif"',fontSize:35,color:'#111',padding:[0,0,0,29]}},
  graphic:panelLabels.map((t,i)=>({type:'text',left:[692,2082][i],top:1304,
    style:{text:t,font:'80px "Liberation Serif"',fill:'#111'}})),
  series
};
echarts.init(document.getElementById('c'),null,{renderer:'canvas'}).setOption(option);
</script></body></html>
